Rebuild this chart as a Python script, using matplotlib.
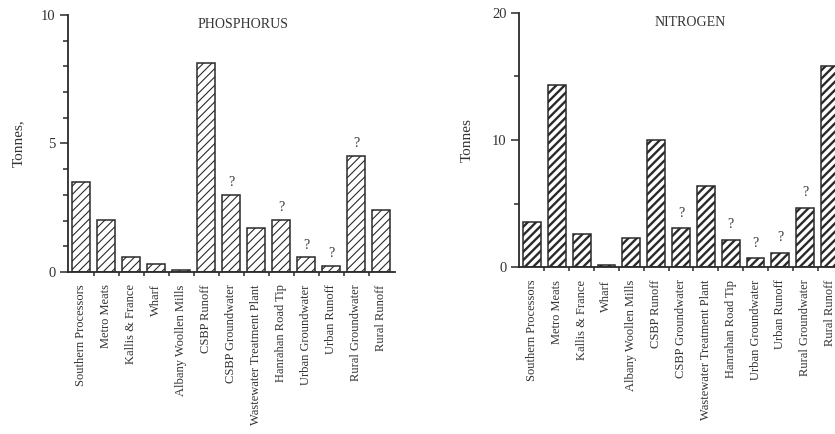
import matplotlib
matplotlib.use("Agg")
import matplotlib.pyplot as plt
from matplotlib.ticker import MultipleLocator

plt.rcParams['font.family'] = ['Liberation Serif', 'DejaVu Serif']

categories = ["Southern Processors", "Metro Meats", "Kallis & France", "Wharf",
              "Albany Woollen Mills", "CSBP Runoff", "CSBP Groundwater",
              "Wastewater Treatment Plant", "Hanrahan Road Tip", "Urban Groundwater",
              "Urban Runoff", "Rural Groundwater", "Rural Runoff"]
phosphorus = [3.52, 2.03, 0.57, 0.32, 0.09, 8.12, 3.0, 1.71, 2.03, 0.57, 0.25, 4.53, 2.42]
nitrogen = [3.55, 14.3, 2.58, 0.18, 2.3, 10.0, 3.08, 6.4, 2.16, 0.71, 1.13, 4.68, 15.8]
uncertain = [False, False, False, False, False, False, True, False, True, True, True, True, False]

W, H = 835, 434
fig = plt.figure(figsize=(W / 100, H / 100), dpi=100)
fig.patch.set_facecolor('white')

edge = '#2a2a2a'
txt = '#333333'

def make(ax_rect, values, ymax, major, minor, title, title_xy, ylabel, ylabel_xy,
         hatch_lw, hatch, qoff):
    ax = fig.add_axes(ax_rect)
    x = list(range(len(values)))
    bars = ax.bar(x, values, width=0.72, facecolor='white', edgecolor=edge,
                  linewidth=1.1, hatch=hatch)
    for b in bars:
        try:
            b.set_hatch_linewidth(hatch_lw)
        except AttributeError:
            pass
    ax.set_xlim(-0.52, 12.56)
    ax.set_ylim(0, ymax)
    for s in ['top', 'right']:
        ax.spines[s].set_visible(False)
    for s in ['left', 'bottom']:
        ax.spines[s].set_color(edge)
        ax.spines[s].set_linewidth(1.3)
    ax.yaxis.set_major_locator(MultipleLocator(major))
    ax.yaxis.set_minor_locator(MultipleLocator(minor))
    ax.tick_params(axis='y', which='major', length=6, width=1.1, color=edge,
                   labelsize=10.5, labelcolor=txt, pad=3)
    ax.tick_params(axis='y', which='minor', length=3.5, width=1.1, color=edge)
    ax.set_xticks([i + 0.5 for i in range(len(values) - 1)], minor=True)
    ax.set_xticks(x)
    ax.set_xticklabels(categories, rotation=90, fontsize=9, color=txt, va='top')
    ax.tick_params(axis='x', which='major', length=0, pad=9)
    ax.tick_params(axis='x', which='minor', length=3, width=1.1, color=edge)
    for i, (v, u) in enumerate(zip(values, uncertain)):
        if u:
            ax.annotate('?', (i, v), xytext=(0, qoff), textcoords='offset points',
                        ha='center', va='bottom', fontsize=10, color=txt)
    fig.text(title_xy[0] / W, 1 - title_xy[1] / H, title, ha='center', va='center',
             fontsize=10, color=txt)
    fig.text(ylabel_xy[0] / W, 1 - ylabel_xy[1] / H, ylabel, ha='center', va='center',
             rotation=90, fontsize=11, color=txt)
    return ax

plt.rcParams['hatch.color'] = '#3c3c3c'
plt.rcParams['hatch.linewidth'] = 0.8
make([68 / W, (H - 272) / H, 327 / W, 257 / H], phosphorus, 10, 5, 1,
     'PHOSPHORUS', (243, 25), 'Tonnes,', (18, 143), 0.8, '////', 4)
plt.rcParams['hatch.color'] = '#1e1e1e'
plt.rcParams['hatch.linewidth'] = 1.7
make([519 / W, (H - 267) / H, 325 / W, 254 / H], nitrogen, 20, 10, 5,
     'NITROGEN', (690, 23), 'Tonnes', (467, 140), 1.7, '////', 6)

fig.savefig('out.png', dpi=100, facecolor='white')
